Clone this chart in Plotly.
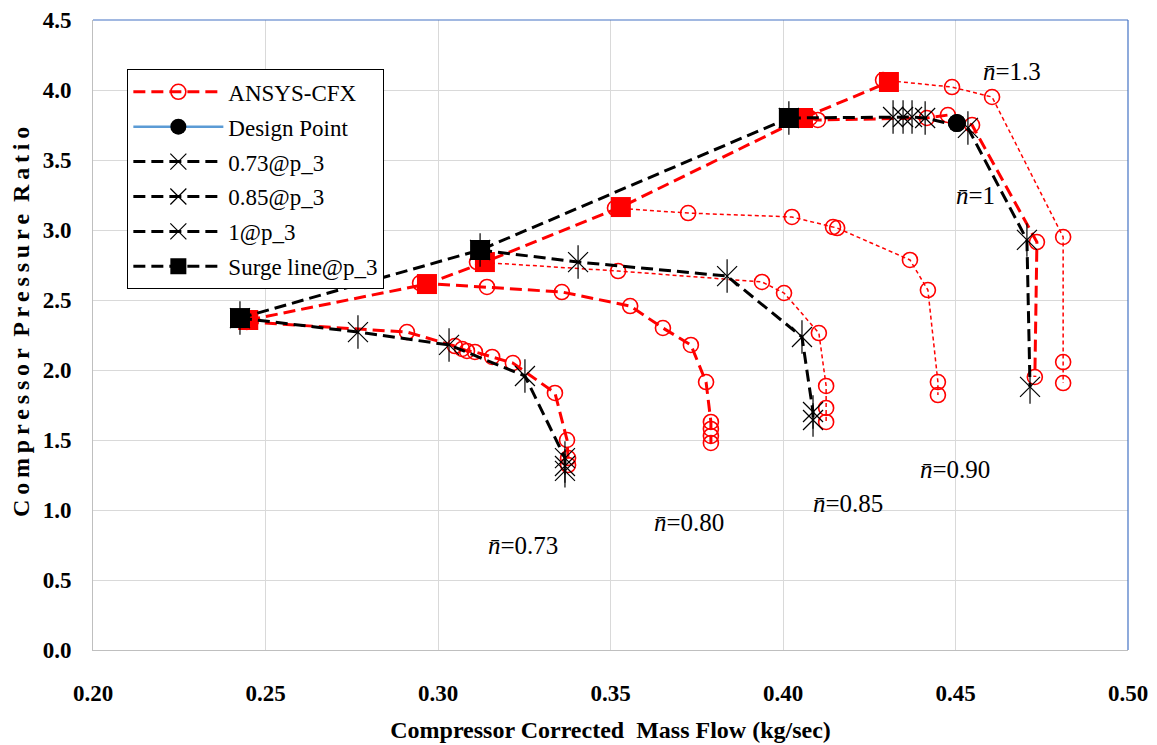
import plotly.graph_objects as go

# ---------------- data ----------------
# ANSYS-CFX speed lines (red)
cfx_073_x = [0.2446, 0.2910, 0.3049, 0.3070, 0.3084, 0.3107, 0.3157, 0.3217, 0.3339, 0.3374, 0.3377, 0.3377]
cfx_073_y = [2.343, 2.271, 2.171, 2.150, 2.136, 2.129, 2.093, 2.050, 1.836, 1.500, 1.371, 1.321]
cfx_080_x = [0.2948, 0.3142, 0.3359, 0.3557, 0.3652, 0.3733, 0.3777, 0.3791, 0.3791, 0.3791, 0.3791]
cfx_080_y = [2.621, 2.593, 2.557, 2.457, 2.300, 2.179, 1.914, 1.629, 1.579, 1.529, 1.479]
cfx_085_x = [0.3113, 0.3522, 0.3939, 0.4003, 0.4104, 0.4125, 0.4125, 0.4125]
cfx_085_y = [2.771, 2.707, 2.629, 2.550, 2.264, 1.886, 1.729, 1.629]
cfx_090_x = [0.3513, 0.3725, 0.4026, 0.4145, 0.4157, 0.4368, 0.4420, 0.4449, 0.4449]
cfx_090_y = [3.157, 3.121, 3.093, 3.021, 3.014, 2.786, 2.571, 1.914, 1.821]
cfx_100_x = [0.4078, 0.4101, 0.4417, 0.4478, 0.4548, 0.4736, 0.4730]
cfx_100_y = [3.800, 3.786, 3.800, 3.821, 3.750, 2.914, 1.950]
cfx_130_x = [0.4290, 0.4490, 0.4606, 0.4812, 0.4812, 0.4812]
cfx_130_y = [4.071, 4.021, 3.950, 2.950, 2.057, 1.907]
cfx_surge_x = [0.2450, 0.2968, 0.3136, 0.3530, 0.4058, 0.4307]
cfx_surge_y = [2.357, 2.614, 2.771, 3.164, 3.800, 4.057]

# p_3 lines (black)
p3_073_x = [0.2426, 0.2768, 0.3032, 0.3252, 0.3368, 0.3368, 0.3368]
p3_073_y = [2.371, 2.271, 2.179, 1.957, 1.371, 1.314, 1.280]
p3_085_x = [0.3122, 0.3406, 0.3838, 0.4055, 0.4087, 0.4087]
p3_085_y = [2.857, 2.771, 2.671, 2.236, 1.700, 1.643]
p3_100_x = [0.4017, 0.4319, 0.4348, 0.4374, 0.4412, 0.4536, 0.4707, 0.4716]
p3_100_y = [3.800, 3.807, 3.807, 3.807, 3.800, 3.729, 2.929, 1.879]
p3_surge_x = [0.2426, 0.3122, 0.4017]
p3_surge_y = [2.371, 2.857, 3.800]

design_x = [0.4504]
design_y = [3.764]

label_text = ["1.3", "1", "0.90", "0.85", "0.80", "0.73"]
label_x = [0.4664, 0.4557, 0.4499, 0.4188, 0.3728, 0.3246]
label_y = [4.129, 3.250, 1.286, 1.050, 0.914, 0.750]

x_ticks = [0.20, 0.25, 0.30, 0.35, 0.40, 0.45, 0.50]
y_ticks = [0.0, 0.5, 1.0, 1.5, 2.0, 2.5, 3.0, 3.5, 4.0, 4.5]

# ---------------- styles ----------------
RED = "#ff0000"
FONT = "Liberation Serif"
thick_red = dict(color=RED, width=3, dash="12px,6px")
thin_red = dict(color=RED, width=1.5, dash="4px,3px")
thick_blk = dict(color="black", width=3, dash="12px,6px")
circ = dict(symbol="circle-open", size=15, color=RED, line=dict(width=1.6, color=RED))

fig = go.Figure()

red_lines = [
    (cfx_073_x, cfx_073_y, thick_red),
    (cfx_080_x, cfx_080_y, thick_red),
    (cfx_085_x, cfx_085_y, thin_red),
    (cfx_090_x, cfx_090_y, thin_red),
    (cfx_100_x, cfx_100_y, thick_red),
    (cfx_130_x, cfx_130_y, thin_red),
]
for i, (xs, ys, ln) in enumerate(red_lines):
    fig.add_trace(go.Scatter(x=xs, y=ys, mode="lines+markers", line=ln, marker=circ,
                             name="ANSYS-CFX", legendgroup="cfx", showlegend=(i == 0)))
fig.add_trace(go.Scatter(x=cfx_surge_x, y=cfx_surge_y, mode="lines+markers", line=thick_red,
                         marker=dict(symbol="square", size=20, color=RED),
                         name="ANSYS-CFX", legendgroup="cfx", showlegend=False))

# design point
fig.add_trace(go.Scatter(x=design_x, y=design_y, mode="lines+markers",
                         line=dict(color="#5b9bd5", width=2.5),
                         marker=dict(symbol="circle", size=18, color="black"),
                         name="Design Point", legendgroup="dp"))

# black p_3 lines with asterisk (x + vertical bar)
ast = dict(symbol="x-thin-open", size=20, color="black", line=dict(width=1.2, color="black"))
vbar = dict(symbol="line-ns-open", size=24, color="black", line=dict(width=1.2, color="black"))
for xs, ys, nm, grp in [(p3_073_x, p3_073_y, "0.73@p_3", "b73"),
                        (p3_085_x, p3_085_y, "0.85@p_3", "b85"),
                        (p3_100_x, p3_100_y, "1@p_3", "b100")]:
    fig.add_trace(go.Scatter(x=xs, y=ys, mode="lines+markers", line=thick_blk, marker=ast,
                             name=nm, legendgroup=grp))
    fig.add_trace(go.Scatter(x=xs, y=ys, mode="markers", marker=vbar,
                             name=nm, legendgroup=grp, showlegend=False, hoverinfo="skip"))

fig.add_trace(go.Scatter(x=p3_surge_x, y=p3_surge_y, mode="lines+markers", line=thick_blk,
                         marker=dict(symbol="square", size=20, color="black"),
                         name="Surge line@p_3", legendgroup="surge"))

# re-draw design point on top
fig.add_trace(go.Scatter(x=design_x, y=design_y, mode="markers",
                         marker=dict(symbol="circle", size=18, color="black"),
                         showlegend=False, legendgroup="dp", hoverinfo="skip"))

for t, x, y in zip(label_text, label_x, label_y):
    fig.add_annotation(x=x, y=y, text="<i>n\u0304</i>=" + t, showarrow=False,
                       font=dict(family=FONT, size=25, color="black"))

# y-axis title (letter-spaced, placed like the original, slightly above centre)
def spaced(word):
    return "\u2009".join(word)

ytitle = spaced("Compressor") + "  " + spaced("Pressure") + "  " + spaced("Ratio")
fig.add_annotation(xref="paper", yref="paper", x=-0.069, y=0.520, textangle=-90,
                   xanchor="center", yanchor="middle",
                   text="<b>" + ytitle + "</b>", showarrow=False,
                   font=dict(family=FONT, size=24, color="black"))

fig.add_shape(type="line", xref="x domain", yref="y domain", x0=0, x1=1, y0=1, y1=1,
              line=dict(color="#4472c4", width=1.2))
fig.add_shape(type="line", xref="x domain", yref="y domain", x0=1, x1=1, y0=0, y1=1,
              line=dict(color="#4472c4", width=1.2))

fig.update_layout(
    width=1157, height=745,
    margin=dict(l=93, r=29, t=20, b=95, autoexpand=False),
    plot_bgcolor="white", paper_bgcolor="white",
    font=dict(family=FONT, color="black"),
    showlegend=True,
    legend=dict(x=0.033, y=0.922, xanchor="left", yanchor="top",
                bgcolor="white", bordercolor="black", borderwidth=1.2,
                font=dict(family=FONT, size=23, color="black"),
                tracegroupgap=2, itemwidth=90),
    xaxis=dict(range=[0.20, 0.50], tickvals=x_ticks, tickformat=".2f",
               showgrid=True, gridcolor="#d9d9d9", gridwidth=1, zeroline=False,
               showline=True, linecolor="#bfbfbf", linewidth=1, automargin=False,
               ticks="outside", ticklen=22, tickcolor="rgba(0,0,0,0)",
               tickfont=dict(family=FONT, size=23, weight="bold"),
               title=dict(text="<b>Compressor Corrected  Mass Flow (kg/sec)</b>",
                          font=dict(family=FONT, size=24), standoff=16)),
    yaxis=dict(range=[0, 4.5], tickvals=y_ticks, tickformat=".1f",
               showgrid=True, gridcolor="#d9d9d9", gridwidth=1, zeroline=False,
               showline=True, linecolor="#bfbfbf", linewidth=1, automargin=False,
               ticks="outside", ticklen=16, tickcolor="rgba(0,0,0,0)",
               tickfont=dict(family=FONT, size=23, weight="bold")),
)

fig.write_html("out.html")
